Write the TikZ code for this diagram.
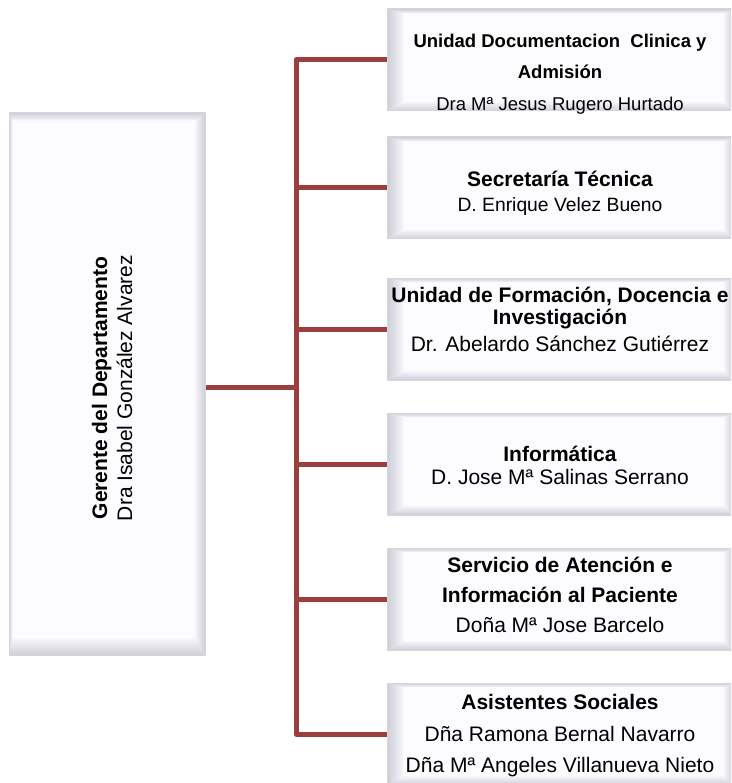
\documentclass[tikz,border=0pt]{standalone}
\usepackage{fontspec}
\setmainfont{Liberation Sans}
\usepackage{xcolor}
\usetikzlibrary{positioning, calc}

\definecolor{enlacerojo}{RGB}{155,62,62}
\definecolor{relleno}{RGB}{252,252,254}
\definecolor{bisel}{RGB}{206,206,216}
\definecolor{biselclaro}{RGB}{245,245,250}
\definecolor{borde}{RGB}{214,214,218}

\tikzset{
	bisel/.style n args={4}{path picture={
		\path (path picture bounding box.north west) coordinate (pnw)
			(path picture bounding box.north east) coordinate (pne)
			(path picture bounding box.south east) coordinate (pse)
			(path picture bounding box.south west) coordinate (psw);
		\shade[left color=bisel, right color=biselclaro] (pnw) -- ([xshift=#1pt,yshift=-#2pt]pnw) -- ([xshift=#1pt,yshift=#4pt]psw) -- (psw) -- cycle;
		\shade[top color=biselclaro, bottom color=bisel] (psw) -- ([xshift=#1pt,yshift=#4pt]psw) -- ([xshift=-#3pt,yshift=#4pt]pse) -- (pse) -- cycle;
		\shade[left color=biselclaro, right color=bisel] (pse) -- ([xshift=-#3pt,yshift=#4pt]pse) -- ([xshift=-#3pt,yshift=-#2pt]pne) -- (pne) -- cycle;
		\shade[top color=bisel, bottom color=biselclaro] (pne) -- ([xshift=-#3pt,yshift=-#2pt]pne) -- ([xshift=#1pt,yshift=-#2pt]pnw) -- (pnw) -- cycle;
	}},
	caja/.style={rectangle, draw=borde, line width=1pt, fill=relleno, inner sep=0pt,
		minimum width=346pt, minimum height=102pt, bisel={16}{4}{9}{9}},
	gerentecaja/.style={rectangle, draw=borde, line width=1pt, fill=relleno, inner sep=0pt,
		minimum width=196pt, minimum height=543pt, bisel={3}{8}{10}{17}},
	texto/.style={align=center, inner sep=0pt, text=black},
	enlace/.style={draw=enlacerojo, line width=5pt, line join=round}
}

\begin{document}
\begin{tikzpicture}[x=1pt, y=-1pt]
		\clip (0,0) rectangle (731,783);

		% gerente
		\node[gerentecaja] (gerente) at (107,384) {};
		\node[texto, rotate=90, font=\fontsize{21}{25}\selectfont] (gerentetxt) at (112,388)
			{\textbf{Gerente del Departamento}\\Dra Isabel González Alvarez};

		% unidades
		\node[caja] (b1) at (560,60) {};
		\node[caja] (b2) at (560,188) {};
		\node[caja] (b3) at (560,329) {};
		\node[caja] (b4) at (560,464) {};
		\node[caja] (b5) at (560,599) {};
		\node[caja] (b6) at (560,734) {};

		\node[texto, font=\fontsize{18.5}{31.5}\selectfont] (t1) at ([yshift=-14pt]b1.center)
			{\textbf{Unidad Documentacion\ \ Clinica y}\\\textbf{Admisión}\\Dra Mª Jesus Rugero Hurtado};
		\node[texto, font=\fontsize{21}{25}\selectfont] (t2) at ([yshift=-5.5pt]b2.center)
			{\textbf{Secretaría Técnica}\\{\fontsize{19.3}{25}\selectfont D. Enrique Velez Bueno}};
		\node[texto, font=\fontsize{21}{22}\selectfont] (t3) at ([yshift=9.5pt]b3.center)
			{\textbf{Unidad de Formación, Docencia e}\\\textbf{Investigación}\\[5pt]Dr. Abelardo Sánchez Gutiérrez};
		\node[texto, font=\fontsize{21}{23}\selectfont] (t4) at ([yshift=-1.5pt]b4.center)
			{\textbf{Informática}\\D. Jose Mª Salinas Serrano};
		\node[texto, font=\fontsize{21}{30}\selectfont] (t5) at ([yshift=4pt]b5.center)
			{\textbf{Servicio de Atención e}\\\textbf{Información al Paciente}\\Doña Mª Jose Barcelo};
		\node[texto, font=\fontsize{21}{31.5}\selectfont] (t6) at ([yshift=-2pt]b6.center)
			{\textbf{Asistentes Sociales}\\Dña Ramona Bernal Navarro\\Dña Mª Angeles Villanueva Nieto};

		% conectores
		\coordinate (nodo) at (296,387);
		\draw[enlace] (gerente.east |- nodo) -- (nodo);
		\foreach \b in {b1,b2,b3,b4,b5,b6}
			\draw[enlace] (\b.west) -| (nodo);
	\end{tikzpicture}
\end{document}
